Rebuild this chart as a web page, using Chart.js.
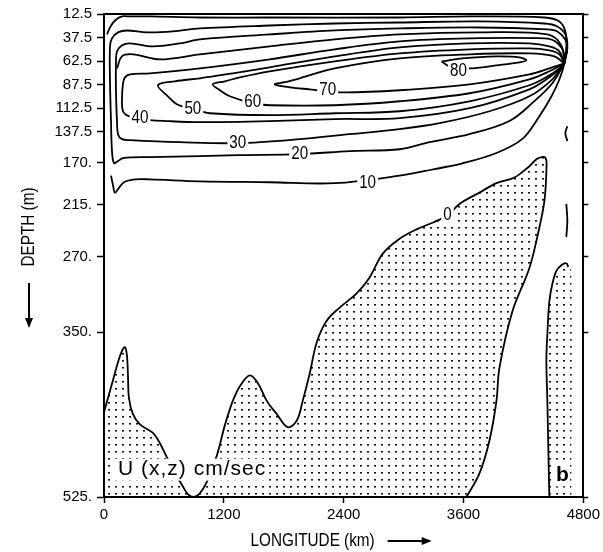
<!DOCTYPE html>
<html>
<head>
<meta charset="utf-8">
<script src="https://cdn.jsdelivr.net/npm/chart.js@4.4.0/dist/chart.umd.min.js"></script>
<style>
  html, body { margin: 0; padding: 0; background: #fff; }
  canvas { display: block; }
</style>
</head>
<body>
<canvas id="chart" width="603" height="552"></canvas>
<script>
const lonTicks = [0, 1200, 2400, 3600, 4800];
const depthTicks = [12.5, 37.5, 62.5, 87.5, 112.5, 137.5, 170, 215, 270, 350, 525];
const depthTickLabels = ["12.5", "37.5", "62.5", "87.5", "112.5", "137.5", "170.", "215.", "270.", "350.", "525."];

// contour lines of U, points are [longitude km, depth m]
const contour0 = [[0,435],[40,420],[90,401],[140,382],[180,370],[210,366],[230,375],[240,396],[250,420],[290,437],[360,448],[490,457],[560,468],[630,483],[710,499],[780,512],[840,522],[900,525],[960,521],[1030,509],[1130,481],[1210,449],[1290,423],[1370,406],[1460,396],[1540,404],[1630,423],[1730,437],[1840,451],[1930,444],[1990,423],[2060,394],[2130,361],[2230,338],[2360,324],[2530,309],[2660,292],[2790,267],[2960,251],[3130,241],[3290,234],[3440,226],[3560,214],[3760,202],[3930,192],[4110,186],[4260,174],[4340,166],[4420,165],[4430,179],[4410,211],[4360,239],[4260,282],[4090,328],[3960,388],[3930,423],[3860,465],[3760,500],[3630,525]];
const contour0East = [[4460,525],[4450,476],[4440,423],[4430,380],[4440,352],[4460,317],[4490,299],[4530,285],[4580,279],[4630,277],[4650,281]];
const eastStippleEdge = 4680;
const contour10 = [[70,184],[90,194],[110,202],[150,197],[200,191],[310,188],[460,188],[960,190],[1660,191],[2310,192],[2960,184],[3310,177],[3590,171],[3930,160],[4190,145],[4360,121],[4480,100],[4560,82],[4610,65],[4630,47],[4620,31],[4560,20.4],[4410,16.2],[3660,15.1],[2960,16.2],[1660,16.2],[960,16.2],[460,15.1],[260,15.1],[180,15.1],[110,19.4],[60,26.8],[30,34.2]];
const contour20 = [[4610,65],[4640,47],[4620,34.2],[4540,25.7],[4410,22.6],[3760,20.4],[2960,21.5],[2310,22.6],[1660,24.7],[960,27.8],[690,31],[430,32],[230,30],[140,32],[80,38.4],[60,47],[60,84],[70,126],[80,158],[100,170.7],[140,168.6],[190,165.4],[460,164.3],[960,163.3],[1340,162.2],[1960,161.2],[2460,158],[2960,156],[3260,148.5],[3660,140],[4060,126],[4310,105],[4490,86],[4610,65]];
const contour30 = [[4610,65],[4640,49],[4620,39.5],[4540,31],[4440,28.9],[3760,26.8],[2960,27.8],[2310,29.9],[1660,34.2],[960,39.5],[760,43.7],[490,46.9],[260,43.7],[180,45.8],[130,52.2],[120,62.8],[120,94.5],[130,126],[140,140],[180,145.3],[260,146.3],[760,148.5],[1340,149.5],[1960,145.3],[2460,140],[2960,134.7],[3360,128.4],[3860,115.7],[4260,99.8],[4490,81.8],[4610,65]];
const contour30b = [[130,70.2],[180,57.5],[290,55.3],[560,60.6],[960,55.3],[1660,46.9],[2310,39.5],[2960,34.2],[3760,32],[4440,34.2],[4580,45.8],[4610,65]];
const contour40 = [[4610,65],[4600,52.2],[4520,41.6],[4410,38.4],[3660,38.4],[2960,41.6],[2310,50],[1660,60.6],[960,70.2],[460,75.4],[260,76.5],[210,79.7],[190,86],[180,105],[190,115.7],[230,120],[360,124],[660,126.2],[960,127.3],[1660,126.2],[2310,124],[2960,123],[3660,112.5],[4260,92.4],[4460,79.7],[4560,71.2],[4610,65]];
const contour50 = [[4610,65],[4560,52.2],[4460,46.9],[4260,43.7],[3660,43.7],[2960,47.9],[2310,57.5],[1660,69.1],[1290,75.4],[960,80.7],[710,83.9],[540,88.1],[640,99.8],[730,108.3],[890,113.5],[1060,117.8],[1660,119.9],[2310,117.8],[2960,115.7],[3660,105.1],[4260,88.1],[4460,77.6],[4560,70.2],[4610,65]];
const contour60 = [[4610,65],[4560,55.3],[4460,51.1],[4260,49],[3660,50],[2960,54.3],[2310,62.8],[1660,73.3],[1360,79.7],[1210,83.9],[1090,87.1],[1160,93.4],[1260,99.8],[1490,107.2],[1660,109.3],[2310,109.3],[2960,105.1],[3660,96.6],[4260,81.8],[4460,73.3],[4610,65]];
const contour70 = [[4610,65],[4510,57.5],[4260,54.3],[3660,55.3],[2960,59.6],[2310,70.2],[1960,80.7],[1810,84.9],[1710,87.1],[1860,90.3],[2060,92.4],[2380,95.6],[2960,93.4],[3660,87.1],[4260,76.5],[4460,70.2],[4610,65]];
const contour80 = [[3380,62.8],[3590,59.6],[3930,57.5],[4160,58.5],[4230,61.7],[4160,63.9],[3930,67],[3660,70.2],[3460,68],[3380,62.8]];
const edgeBitUpper = [[4640,131.5],[4620,138.9],[4640,147.4]];
const edgeBitLower = [[4630,214],[4640,232],[4630,249]];

const labelText = ["0", "10", "20", "30", "40", "50", "60", "70", "80"];
const labelKm = [3440, 2640, 1960, 1340, 360, 890, 1490, 2240, 3550];
const labelDepth = [225, 191.8, 161.2, 149.5, 123, 113.5, 106, 93.4, 72.3];

const depthMin = depthTicks[0];
const depthMax = depthTicks[depthTicks.length - 1];

const canvas = document.getElementById("chart");
const stipple = (() => {
  const c = document.createElement("canvas");
  c.width = 7;
  c.height = 7;
  const g = c.getContext("2d");
  g.fillStyle = "#111";
  g.fillRect(3, 3, 2, 1.6);
  return canvas.getContext("2d").createPattern(c, "repeat");
})();

const toPoints = (arr) => arr.map((p) => ({ x: p[0], y: p[1] }));

function lineSet(arr) {
  return {
    data: toPoints(arr),
    showLine: true,
    borderColor: "#000",
    borderWidth: 1.8,
    pointRadius: 0,
    tension: 0.35,
    fill: false,
  };
}

function regionSet(arr) {
  return {
    data: toPoints(arr),
    showLine: true,
    borderWidth: 0,
    borderColor: "rgba(0,0,0,0)",
    backgroundColor: stipple,
    pointRadius: 0,
    tension: 0.35,
    fill: "shape",
  };
}

const zeroRegion = contour0.concat([[contour0[contour0.length - 1][0], depthMax], [lonTicks[0], depthMax]]);
const eastRegion = contour0East.concat([[eastStippleEdge, 285], [eastStippleEdge, depthMax]]);

function narrowText(ctx, text, x, y, size, squeeze) {
  ctx.save();
  ctx.translate(x, y);
  ctx.scale(squeeze, 1);
  ctx.font = size + "px 'Liberation Sans', Arial, sans-serif";
  ctx.textAlign = "center";
  ctx.textBaseline = "middle";
  ctx.fillText(text, 0, 0);
  ctx.restore();
}

function arrow(ctx, x1, y1, x2, y2) {
  const a = Math.atan2(y2 - y1, x2 - x1);
  ctx.save();
  ctx.lineWidth = 2;
  ctx.beginPath();
  ctx.moveTo(x1, y1);
  ctx.lineTo(x2 - 8 * Math.cos(a), y2 - 8 * Math.sin(a));
  ctx.stroke();
  ctx.beginPath();
  ctx.moveTo(x2, y2);
  ctx.lineTo(x2 - 10 * Math.cos(a) + 4 * Math.sin(a), y2 - 10 * Math.sin(a) - 4 * Math.cos(a));
  ctx.lineTo(x2 - 10 * Math.cos(a) - 4 * Math.sin(a), y2 - 10 * Math.sin(a) + 4 * Math.cos(a));
  ctx.closePath();
  ctx.fill();
  ctx.restore();
}

function boxedText(ctx, text, x, y, size, squeeze) {
  ctx.save();
  ctx.font = size + "px 'Liberation Sans', Arial, sans-serif";
  const w = ctx.measureText(text).width * squeeze;
  ctx.fillStyle = "#fff";
  ctx.fillRect(x - w / 2 - 2, y - size * 0.42, w + 4, size * 0.84);
  ctx.fillStyle = "#000";
  narrowText(ctx, text, x, y, size, squeeze);
  ctx.restore();
}

const annotations = {
  id: "annotations",
  afterDatasetsDraw(chart) {
    const ctx = chart.ctx;
    const xs = chart.scales.x;
    const ys = chart.scales.y;
    labelText.forEach((t, i) => {
      boxedText(ctx, t, xs.getPixelForValue(labelKm[i]), ys.getPixelForValue(labelDepth[i]), 19, 0.8);
    });
    ctx.save();
    ctx.font = "21px 'Liberation Sans', Arial, sans-serif";
    ctx.letterSpacing = "1px";
    ctx.textBaseline = "middle";
    const tag = "U (x,z) cm/sec";
    const tx = xs.getPixelForValue(140);
    const ty = ys.getPixelForValue(496);
    const tw = ctx.measureText(tag).width;
    ctx.fillStyle = "#fff";
    ctx.fillRect(tx - 3, ty - 11, tw + 6, 22);
    ctx.fillStyle = "#000";
    ctx.fillText(tag, tx, ty);
    ctx.letterSpacing = "0px";
    const bx = xs.getPixelForValue(4590);
    const by = ys.getPixelForValue(502);
    ctx.font = "bold 21px 'Liberation Sans', Arial, sans-serif";
    ctx.textAlign = "center";
    ctx.fillStyle = "#fff";
    ctx.fillRect(bx - 7, by - 11, 14, 22);
    ctx.fillStyle = "#000";
    ctx.fillText("b", bx, by);
    ctx.restore();
  },
  afterDraw(chart) {
    const ctx = chart.ctx;
    const area = chart.chartArea;
    const midX = (area.left + area.right) / 2;
    ctx.save();
    ctx.fillStyle = "#000";
    ctx.strokeStyle = "#000";
    narrowText(ctx, "LONGITUDE (km)", midX - 31, 541, 18, 0.85);
    arrow(ctx, midX + 44, 541, midX + 88, 541);
    ctx.save();
    ctx.translate(29, 227);
    ctx.rotate(-Math.PI / 2);
    narrowText(ctx, "DEPTH (m)", 0, 0, 18, 0.85);
    ctx.restore();
    arrow(ctx, 29, 283, 29, 328);
    ctx.restore();
  },
};

const tickFont = { family: "'Liberation Sans', Arial, sans-serif", size: 15 };

new Chart(canvas, {
  type: "scatter",
  data: {
    datasets: [
      lineSet(contour0),
      lineSet(contour0East),
      lineSet(contour10),
      lineSet(contour20),
      lineSet(contour30),
      lineSet(contour30b),
      lineSet(contour40),
      lineSet(contour50),
      lineSet(contour60),
      lineSet(contour70),
      lineSet(contour80),
      lineSet(edgeBitUpper),
      lineSet(edgeBitLower),
      regionSet(zeroRegion),
      regionSet(eastRegion),
    ],
  },
  options: {
    responsive: false,
    animation: false,
    events: [],
    layout: { padding: 0 },
    plugins: {
      legend: { display: false },
      tooltip: { enabled: false },
      filler: { drawTime: "beforeDatasetsDraw" },
    },
    scales: {
      x: {
        type: "linear",
        position: "bottom",
        min: lonTicks[0],
        max: lonTicks[lonTicks.length - 1],
        afterBuildTicks: (s) => { s.ticks = lonTicks.map((v) => ({ value: v })); },
        afterFit: (s) => { s.height = 55; },
        ticks: { color: "#000", font: tickFont, padding: 3, maxRotation: 0, callback: (v) => String(v) },
        grid: { drawOnChartArea: false, color: "#000", tickLength: 6, tickWidth: 1.5 },
        border: { color: "#000", width: 2 },
      },
      x2: {
        type: "linear",
        position: "top",
        min: lonTicks[0],
        max: lonTicks[lonTicks.length - 1],
        afterFit: (s) => { s.height = 12; },
        ticks: { display: false },
        grid: { drawOnChartArea: false, drawTicks: false },
        border: { color: "#000", width: 2 },
      },
      y: {
        type: "linear",
        position: "left",
        reverse: true,
        min: depthMin,
        max: depthMax,
        afterBuildTicks: (s) => { s.ticks = depthTicks.map((v) => ({ value: v })); },
        afterFit: (s) => { s.width = 104; },
        ticks: {
          color: "#000",
          font: tickFont,
          padding: 5,
          callback: (v) => depthTickLabels[depthTicks.indexOf(v)],
        },
        grid: { drawOnChartArea: false, color: "#000", tickLength: 7, tickWidth: 1.5 },
        border: { color: "#000", width: 2 },
      },
      y2: {
        type: "linear",
        position: "right",
        reverse: true,
        min: depthMin,
        max: depthMax,
        afterBuildTicks: (s) => { s.ticks = depthTicks.map((v) => ({ value: v })); },
        afterFit: (s) => { s.width = 19; },
        ticks: { display: false },
        grid: { drawOnChartArea: false, color: "#000", tickLength: 5, tickWidth: 1.5 },
        border: { color: "#000", width: 2 },
      },
    },
  },
  plugins: [annotations],
});
</script>
</body>
</html>
